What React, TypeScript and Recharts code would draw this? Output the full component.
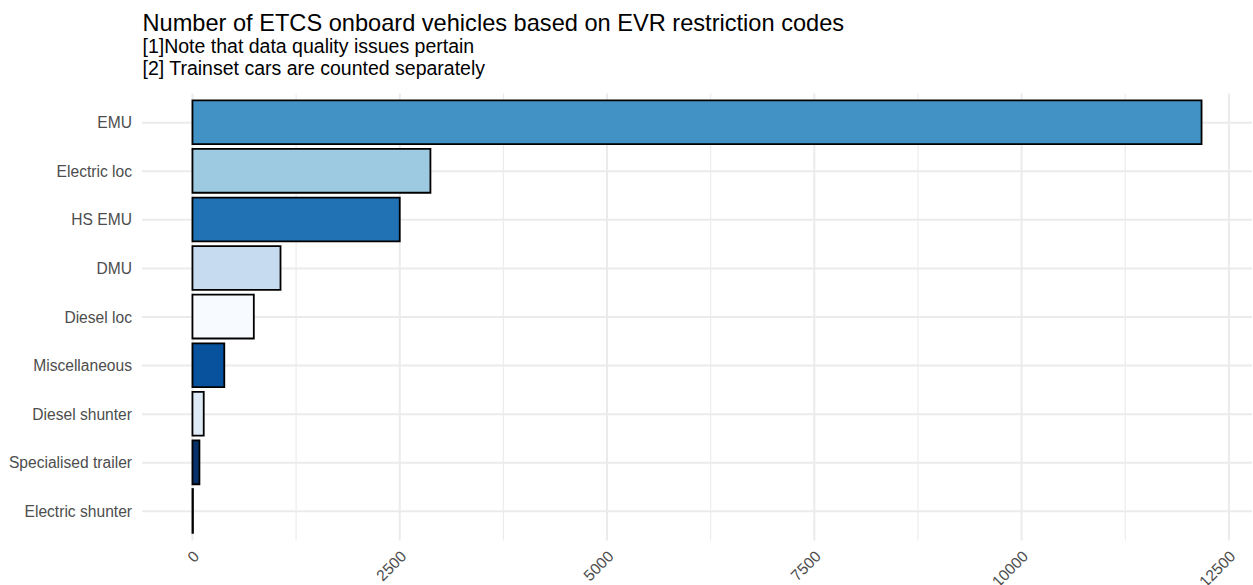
import React from "react";
import { BarChart, Bar, XAxis, YAxis, CartesianGrid, Cell } from "recharts";

const categories = [
  "EMU",
  "Electric loc",
  "HS EMU",
  "DMU",
  "Diesel loc",
  "Miscellaneous",
  "Diesel shunter",
  "Specialised trailer",
  "Electric shunter",
];
const vehicleCounts = [12170, 2870, 2500, 1062, 740, 384, 136, 84, 6];
const barColors = [
  "#4292C6",
  "#9ECAE1",
  "#2171B5",
  "#C6DBEF",
  "#F7FBFF",
  "#08519C",
  "#DEEBF7",
  "#08306B",
  "#6BAED6",
];
const majorTicks = [0, 2500, 5000, 7500, 10000, 12500];
const minorTicks = [1250, 3750, 6250, 8750, 11250];

const titleText = "Number of ETCS onboard vehicles based on EVR restriction codes";
const subtitleLines = [
  "[1]Note that data quality issues pertain",
  "[2] Trainset cars are counted separately",
];

const data = categories.map((name, i) => ({ name, value: vehicleCounts[i] }));
const maxVal = Math.max(...vehicleCounts);
const expand = maxVal * 0.05;
const domainMin = -expand;
const domainMax = maxVal + expand;
const FONT = "'Liberation Sans', Arial, sans-serif";

const minorGenerator = (p: any) => {
  if (!p) return [];
  const s = p.xAxis && p.xAxis.scale;
  if (typeof s === "function") return minorTicks.map((v) => s(v));
  const off = p.offset;
  if (!off) return [];
  return minorTicks.map(
    (v) => off.left + ((v - domainMin) / (domainMax - domainMin)) * off.width
  );
};

const XTick = (props: any) => {
  const { x, y, payload } = props;
  const ax = x + 3.7;
  const ay = y + 13;
  return (
    <text
      x={ax}
      y={ay}
      transform={`rotate(-45, ${ax}, ${ay})`}
      textAnchor="end"
      dominantBaseline="central"
      fill="#4D4D4D"
      fontSize={15.6}
      fontFamily={FONT}
    >
      {payload.value}
    </text>
  );
};

export default function App() {
  return (
    <div style={{ position: "absolute", left: 0, top: 0, width: 1253, height: 585, background: "#fff" }}>
      <BarChart
        width={1253}
        height={585}
        data={data}
        layout="vertical"
        margin={{ top: 93.5, right: 1, bottom: 0, left: 0 }}
      >
        <CartesianGrid
          stroke="#EBEBEB"
          strokeWidth={1.1}
          horizontal={false}
          syncWithTicks
          verticalCoordinatesGenerator={minorGenerator}
        />
        <CartesianGrid stroke="#EBEBEB" strokeWidth={2} syncWithTicks />
        <XAxis
          type="number"
          dataKey="value"
          domain={[domainMin, domainMax]}
          allowDataOverflow
          ticks={majorTicks}
          interval={0}
          axisLine={false}
          tickLine={false}
          tickSize={0}
          tickMargin={0}
          height={44.5}
          tick={<XTick />}
        />
        <YAxis
          type="category"
          dataKey="name"
          width={142}
          axisLine={false}
          tickLine={false}
          tickSize={0}
          tickMargin={10}
          interval={0}
          padding={{ top: 4.87, bottom: 4.87 }}
          tick={{ fill: "#4D4D4D", fontSize: 15.6, fontFamily: FONT }}
        />
        <Bar dataKey="value" barSize={43.8} stroke="#000" strokeWidth={1.8} isAnimationActive={false}>
          {data.map((d, i) => (
            <Cell key={d.name} fill={barColors[i]} />
          ))}
        </Bar>
      </BarChart>
      <svg
        width={1253}
        height={90}
        style={{ position: "absolute", left: 0, top: 0, pointerEvents: "none" }}
      >
        <text x={142.5} y={31} fontSize={23.6} fontFamily={FONT} fill="#000">
          {titleText}
        </text>
        {subtitleLines.map((line, i) => (
          <text key={i} x={142.5} y={53 + i * 21.5} fontSize={19.5} fontFamily={FONT} fill="#000">
            {line}
          </text>
        ))}
      </svg>
    </div>
  );
}
